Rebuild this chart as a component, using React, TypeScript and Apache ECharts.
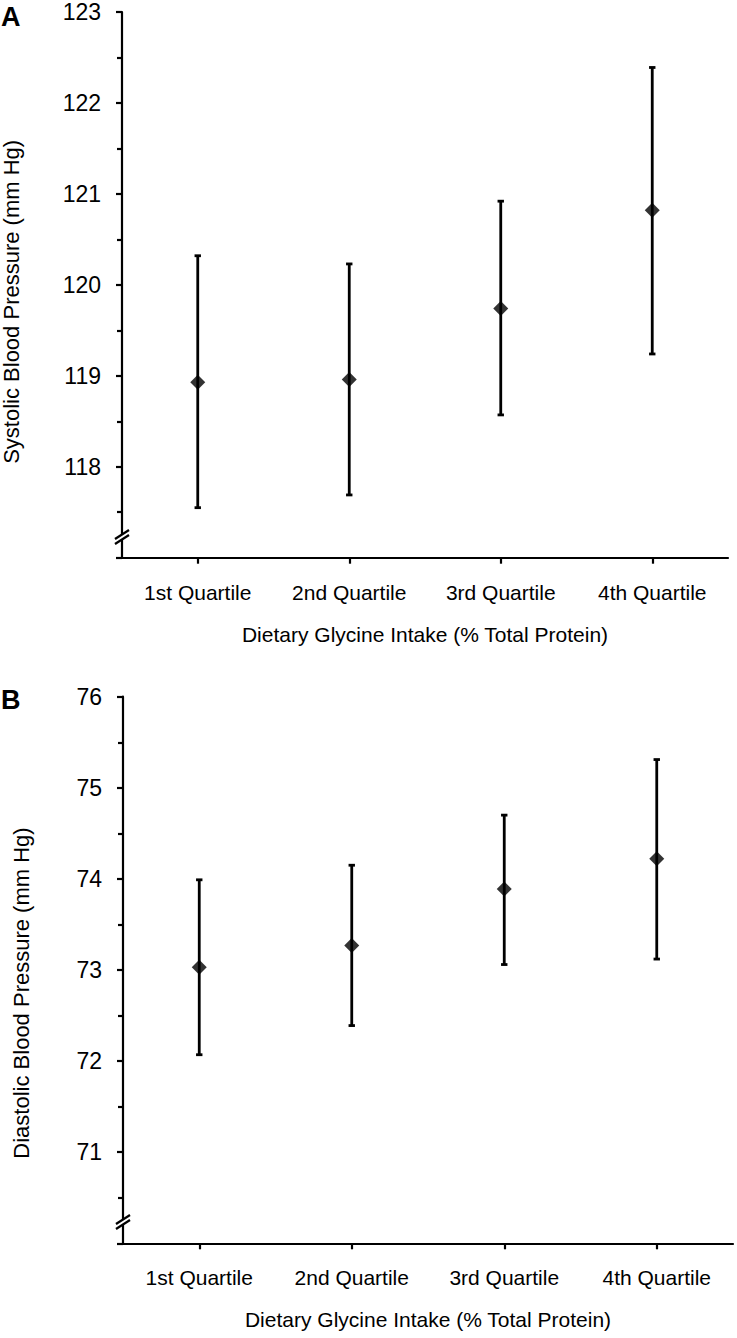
import React, { useEffect, useRef } from "react";
import * as echarts from "echarts";

const categories = ["1st Quartile", "2nd Quartile", "3rd Quartile", "4th Quartile"];
const sbpMean = [118.93, 118.96, 119.74, 120.82];
const sbpLower = [117.55, 117.69, 118.57, 119.24];
const sbpUpper = [120.32, 120.23, 120.92, 122.39];
const dbpMean = [73.03, 73.27, 73.89, 74.22];
const dbpLower = [72.07, 72.39, 73.06, 73.12];
const dbpUpper = [73.99, 74.15, 74.7, 75.31];

const FONT = "'Liberation Sans', Arial, Helvetica, sans-serif";

function errorRender(params: any, api: any) {
  const idx = api.value(0);
  const lo = api.coord([idx, api.value(1)]);
  const hi = api.coord([idx, api.value(2)]);
  const cap = 3.2;
  const st = { stroke: "#000", lineWidth: 2.8 };
  return {
    type: "group",
    children: [
      { type: "line", shape: { x1: lo[0], y1: lo[1], x2: hi[0], y2: hi[1] }, style: st },
      { type: "line", shape: { x1: lo[0] - cap, y1: lo[1], x2: lo[0] + cap, y2: lo[1] }, style: st },
      { type: "line", shape: { x1: hi[0] - cap, y1: hi[1], x2: hi[0] + cap, y2: hi[1] }, style: st },
    ],
  };
}

function xAxisCfg(gridIndex: number) {
  return {
    type: "category",
    gridIndex,
    data: categories,
    boundaryGap: true,
    name: "Dietary Glycine Intake (% Total Protein)",
    nameLocation: "middle",
    nameGap: 66,
    nameTextStyle: { fontFamily: FONT, fontSize: 21, color: "#000" },
    axisLine: { show: true, onZero: false, lineStyle: { color: "#000", width: 2.2 } },
    axisTick: { show: true, alignWithLabel: true, length: 6, lineStyle: { color: "#000", width: 2.2 } },
    axisLabel: { fontFamily: FONT, fontSize: 21, color: "#000", margin: 24 },
    splitLine: { show: false },
  };
}

function yAxisCfg(gridIndex: number, min: number, max: number, name: string, gap: number, pad: number) {
  return {
    type: "value",
    gridIndex,
    min,
    max,
    interval: 1,
    name,
    nameLocation: "middle",
    nameGap: gap,
    nameTextStyle: { fontFamily: FONT, fontSize: 22, color: "#000", padding: [0, pad, 0, 0] },
    axisLine: { show: true, onZero: false, lineStyle: { color: "#000", width: 2.2 } },
    axisTick: { show: true, length: 6, lineStyle: { color: "#000", width: 2.2 } },
    minorTick: { show: true, splitNumber: 2, length: 5, lineStyle: { color: "#000", width: 2.2 } },
    axisLabel: { fontFamily: FONT, fontSize: 23, color: "#000", margin: 21, showMinLabel: false },
    splitLine: { show: false },
    minorSplitLine: { show: false },
  };
}

function breakMark(cx: number, cy: number) {
  return [
    { type: "rect", shape: { x: cx - 3, y: cy - 3, width: 6, height: 6 }, style: { fill: "#fff" }, z: 100 },
    { type: "line", shape: { x1: cx - 7, y1: cy + 2, x2: cx + 7, y2: cy - 7 }, style: { stroke: "#000", lineWidth: 2.2 }, z: 101 },
    { type: "line", shape: { x1: cx - 7, y1: cy + 7, x2: cx + 7, y2: cy - 2 }, style: { stroke: "#000", lineWidth: 2.2 }, z: 101 },
  ];
}

export default function App() {
  const ref = useRef<HTMLDivElement>(null);
  useEffect(() => {
    if (!ref.current) return;
    const chart = echarts.init(ref.current, null, { renderer: "svg" });
    const sbpErr = categories.map((_, i) => [i, sbpLower[i], sbpUpper[i]]);
    const dbpErr = categories.map((_, i) => [i, dbpLower[i], dbpUpper[i]]);
    chart.setOption({
      animation: false,
      backgroundColor: "#fff",
      grid: [
        { left: 122, top: 12, width: 606, height: 545.7, outerBoundsMode: "none", containLabel: false },
        { left: 123, top: 696.7, width: 610, height: 546.6, outerBoundsMode: "none", containLabel: false },
      ],
      xAxis: [xAxisCfg(0), xAxisCfg(1)],
      yAxis: [
        yAxisCfg(0, 117, 123, "Systolic Blood Pressure (mm Hg)", 100, 34),
        yAxisCfg(1, 70, 76, "Diastolic Blood Pressure (mm Hg)", 91, 46),
      ],
      series: [
        { type: "custom", xAxisIndex: 0, yAxisIndex: 0, renderItem: errorRender, data: sbpErr, encode: { x: 0, y: [1, 2] }, z: 2 },
        { type: "scatter", xAxisIndex: 0, yAxisIndex: 0, data: sbpMean, symbol: "diamond", symbolSize: 15, itemStyle: { color: "#000" }, z: 3 },
        { type: "custom", xAxisIndex: 1, yAxisIndex: 1, renderItem: errorRender, data: dbpErr, encode: { x: 0, y: [1, 2] }, z: 2 },
        { type: "scatter", xAxisIndex: 1, yAxisIndex: 1, data: dbpMean, symbol: "diamond", symbolSize: 15, itemStyle: { color: "#000" }, z: 3 },
      ],
      graphic: [
        { type: "text", left: 1, top: 3, style: { text: "A", fontFamily: FONT, fontSize: 27, fontWeight: "bold", fill: "#000" } },
        { type: "text", left: 1, top: 686, style: { text: "B", fontFamily: FONT, fontSize: 27, fontWeight: "bold", fill: "#000" } },
        ...breakMark(122, 537),
        ...breakMark(123, 1222),
      ],
    });
    return () => chart.dispose();
  }, []);
  return <div ref={ref} style={{ position: "absolute", left: 0, top: 0, width: 737, height: 1338 }} />;
}
